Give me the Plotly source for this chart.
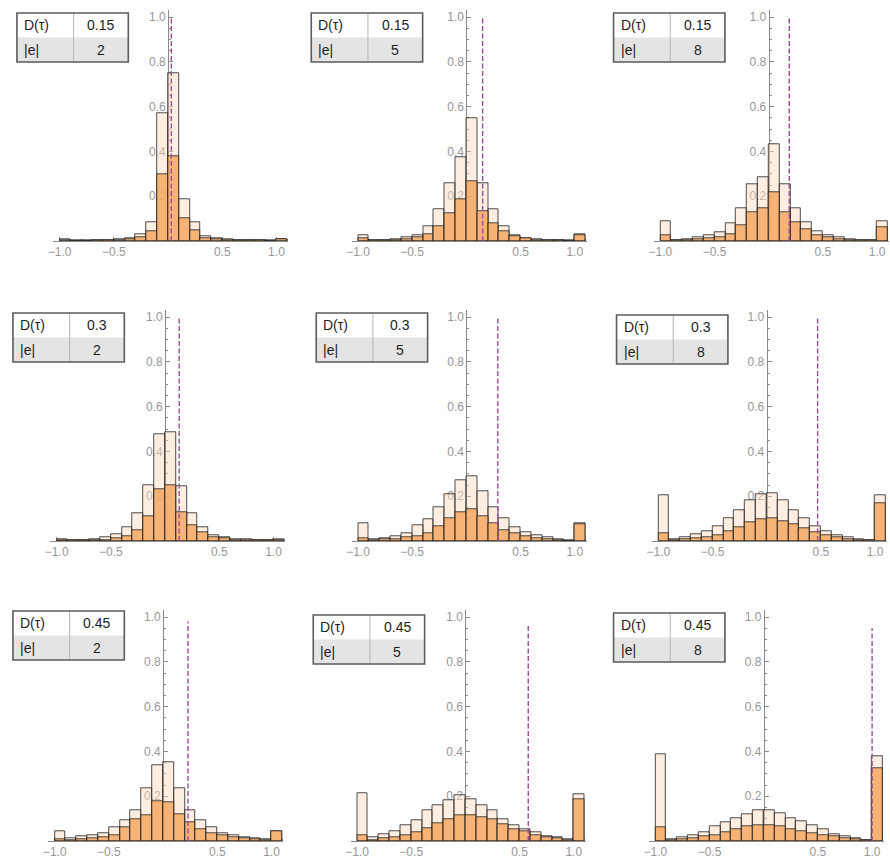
import plotly.graph_objects as go

W, H = 890, 863

# left edges of the histogram bins (width 0.1); the last bin holds the value 1.0
bin_left = [-1.0, -0.9, -0.8, -0.7, -0.6, -0.5, -0.4, -0.3, -0.2, -0.1,
            0.0, 0.1, 0.2, 0.3, 0.4, 0.5, 0.6, 0.7, 0.8, 0.9, 1.0]
bin_width = 0.1

# table labels per panel (row-major: D(tau) = 0.15, 0.3, 0.45 ; |e| = 2, 5, 8)
d_tau = ["0.15", "0.15", "0.15", "0.3", "0.3", "0.3", "0.45", "0.45", "0.45"]
e_abs = ["2", "5", "8", "2", "5", "8", "2", "5", "8"]

# pale histogram (all samples)
light_1 = [0.006, 0.002, 0.002, 0.003, 0.003, 0.007, 0.012, 0.03, 0.082, 0.57, 0.75,
           0.187, 0.082, 0.022, 0.012, 0.006, 0.004, 0.003, 0.003, 0.002, 0.008]
light_2 = [0.027, 0.004, 0.005, 0.009, 0.015, 0.024, 0.067, 0.143, 0.257, 0.376, 0.55,
           0.257, 0.143, 0.067, 0.024, 0.012, 0.006, 0.004, 0.003, 0.002, 0.03]
light_3 = [0.086, 0.004, 0.009, 0.015, 0.024, 0.041, 0.078, 0.147, 0.252, 0.285, 0.43,
           0.252, 0.147, 0.083, 0.044, 0.024, 0.015, 0.009, 0.005, 0.003, 0.086]
light_4 = [0.006, 0.004, 0.005, 0.006, 0.015, 0.03, 0.06, 0.122, 0.25, 0.478, 0.484,
           0.245, 0.122, 0.06, 0.025, 0.015, 0.009, 0.006, 0.005, 0.004, 0.006]
light_5 = [0.081, 0.006, 0.01, 0.021, 0.036, 0.07, 0.096, 0.15, 0.21, 0.272, 0.287,
           0.22, 0.15, 0.103, 0.063, 0.04, 0.025, 0.015, 0.007, 0.003, 0.081]
light_6 = [0.204, 0.006, 0.015, 0.028, 0.045, 0.066, 0.103, 0.137, 0.182, 0.209, 0.215,
           0.18, 0.137, 0.1, 0.066, 0.045, 0.025, 0.015, 0.007, 0.003, 0.204]
light_7 = [0.042, 0.012, 0.021, 0.027, 0.033, 0.06, 0.093, 0.137, 0.236, 0.336, 0.351,
           0.236, 0.137, 0.093, 0.06, 0.033, 0.027, 0.018, 0.012, 0.006, 0.042]
light_8 = [0.213, 0.018, 0.03, 0.045, 0.068, 0.093, 0.135, 0.158, 0.183, 0.203, 0.188,
           0.158, 0.135, 0.098, 0.068, 0.053, 0.038, 0.023, 0.015, 0.006, 0.208]
light_9 = [0.386, 0.006, 0.015, 0.027, 0.039, 0.064, 0.084, 0.102, 0.12, 0.136, 0.139,
           0.124, 0.102, 0.09, 0.072, 0.054, 0.03, 0.02, 0.012, 0.002, 0.379]

# orange histogram (subset)
orange_1 = [0.004, 0.001, 0.001, 0.002, 0.002, 0.004, 0.006, 0.018, 0.045, 0.296, 0.38,
            0.10, 0.048, 0.012, 0.006, 0.003, 0.002, 0.002, 0.002, 0.001, 0.006]
orange_2 = [0.012, 0.002, 0.003, 0.005, 0.008, 0.015, 0.03, 0.064, 0.124, 0.186, 0.265,
            0.131, 0.079, 0.042, 0.02, 0.01, 0.005, 0.003, 0.002, 0.001, 0.024]
orange_3 = [0.024, 0.002, 0.004, 0.006, 0.012, 0.018, 0.03, 0.068, 0.13, 0.145, 0.218,
            0.127, 0.083, 0.053, 0.027, 0.015, 0.008, 0.005, 0.003, 0.002, 0.063]
orange_4 = [0.003, 0.002, 0.003, 0.003, 0.005, 0.01, 0.021, 0.05, 0.11, 0.23, 0.25,
            0.13, 0.07, 0.04, 0.018, 0.01, 0.005, 0.003, 0.003, 0.002, 0.003]
orange_5 = [0.01, 0.003, 0.006, 0.009, 0.015, 0.021, 0.036, 0.066, 0.1, 0.13, 0.14,
            0.11, 0.078, 0.05, 0.033, 0.021, 0.012, 0.006, 0.003, 0.001, 0.075]
orange_6 = [0.036, 0.003, 0.006, 0.01, 0.018, 0.025, 0.045, 0.063, 0.085, 0.096, 0.1,
            0.09, 0.075, 0.055, 0.04, 0.025, 0.015, 0.009, 0.004, 0.002, 0.167]
orange_7 = [0.006, 0.005, 0.008, 0.012, 0.018, 0.027, 0.06, 0.097, 0.116, 0.176, 0.172,
            0.12, 0.082, 0.052, 0.033, 0.024, 0.018, 0.012, 0.007, 0.004, 0.042]
orange_8 = [0.027, 0.005, 0.01, 0.018, 0.027, 0.038, 0.057, 0.078, 0.098, 0.113, 0.117,
            0.108, 0.098, 0.075, 0.053, 0.042, 0.027, 0.018, 0.012, 0.005, 0.188]
orange_9 = [0.06, 0.003, 0.008, 0.012, 0.02, 0.027, 0.039, 0.054, 0.064, 0.069, 0.072,
            0.064, 0.054, 0.045, 0.034, 0.027, 0.019, 0.012, 0.007, 0.002, 0.326]

# dashed reference line per panel: position and height
marker_x = [0.03, 0.15, 0.19, 0.13, 0.29, 0.47, 0.23, 0.58, 1.0]
marker_top = [1.0, 1.0, 1.0, 1.0, 1.0, 1.0, 0.98, 0.96, 0.95]

lights = [light_1, light_2, light_3, light_4, light_5, light_6, light_7, light_8, light_9]
oranges = [orange_1, orange_2, orange_3, orange_4, orange_5, orange_6, orange_7, orange_8, orange_9]

x_ticks = [-1.0, -0.5, 0.5, 1.0]
x_ticktext = ["\u22121.0", "\u22120.5", "0.5", "1.0"]
y_ticks = [0.2, 0.4, 0.6, 0.8, 1.0]
y_ticktext = ["0.2", "0.4", "0.6", "0.8", "1.0"]

# panel placement in pixels: location of the origin and scale of one unit
origin_px_x = [164, 464, 768, 161, 464, 766, 159, 463, 763]
origin_px_y = [241, 241, 241, 541, 541, 541, 841, 841, 841]
unit_x, unit_y = 109, 224
x_lo, x_hi = -1.06, 1.11
y_hi = 1.03

# table boxes: left, top (pixels) and column divider
table_left = [12, 308, 612, 8, 313, 615, 8, 310, 612]
table_top = [13, 13, 13, 313, 313, 315, 611, 615, 613]
table_w, table_h, col1_w = 112, 49, 57

FONT = "Liberation Sans, Arial, sans-serif"
AXIS_COL = "#8a8a8a"
LABEL_COL = "#969696"
LIGHT_FILL = "rgba(250,218,188,0.45)"
ORANGE_FILL = "rgba(244,163,86,0.78)"
EDGE = "rgba(35,35,35,0.8)"
DASH_COL = "#9b4d9c"


def px_x(p):
    return p / W


def px_y(p):
    return 1 - p / H


fig = go.Figure()
layout = dict(
    width=W, height=H,
    margin=dict(l=0, r=0, t=0, b=0),
    paper_bgcolor="white", plot_bgcolor="rgba(0,0,0,0)",
    showlegend=False, barmode="overlay", bargap=0,
    shapes=[], annotations=[],
)

centers = [b + bin_width / 2 for b in bin_left]

for k in range(9):
    sfx = "" if k == 0 else str(k + 1)
    xa, ya = "x" + sfx, "y" + sfx
    x0, y0 = origin_px_x[k], origin_px_y[k]

    fig.add_trace(go.Bar(
        x=centers, y=lights[k], width=bin_width, xaxis=xa, yaxis=ya,
        marker=dict(color=LIGHT_FILL, line=dict(color=EDGE, width=1)),
        hoverinfo="skip"))
    fig.add_trace(go.Bar(
        x=centers, y=oranges[k], width=bin_width, xaxis=xa, yaxis=ya,
        marker=dict(color=ORANGE_FILL, line=dict(color=EDGE, width=1)),
        hoverinfo="skip"))
    fig.add_trace(go.Scatter(
        x=[marker_x[k], marker_x[k]], y=[0, marker_top[k]], mode="lines",
        xaxis=xa, yaxis=ya, line=dict(color=DASH_COL, width=1.4, dash="5px,2.5px"),
        hoverinfo="skip"))

    xdom = [px_x(x0 + x_lo * unit_x), min(1.0, px_x(x0 + x_hi * unit_x))]
    ydom = [px_y(y0), px_y(y0 - y_hi * unit_y)]

    layout["xaxis" + sfx] = dict(
        domain=xdom, range=[x_lo, x_hi], anchor=ya,
        showgrid=False, zeroline=False, showline=True, linecolor=AXIS_COL, linewidth=1,
        tickmode="array", tickvals=x_ticks, ticktext=x_ticktext,
        ticks="inside", ticklen=4, tickcolor=AXIS_COL, tickwidth=1,
        minor=dict(tickmode="linear", tick0=0, dtick=0.1, ticks="inside",
                   ticklen=2, tickcolor=AXIS_COL, showgrid=False),
        tickfont=dict(family=FONT, size=12, color=LABEL_COL),
        layer="below traces", fixedrange=True,
    )
    layout["yaxis" + sfx] = dict(
        domain=ydom, range=[0, y_hi], anchor="free", position=px_x(x0),
        showgrid=False, zeroline=False, showline=True, linecolor=AXIS_COL, linewidth=1,
        tickmode="array", tickvals=y_ticks, ticktext=y_ticktext,
        ticks="inside", ticklen=4, tickcolor=AXIS_COL, tickwidth=1,
        minor=dict(tickmode="linear", tick0=0, dtick=0.05, ticks="inside",
                   ticklen=2, tickcolor=AXIS_COL, showgrid=False),
        tickfont=dict(family=FONT, size=12, color=LABEL_COL),
        layer="below traces", fixedrange=True,
    )

    # parameter table
    L, T = table_left[k], table_top[k]
    R, B = L + table_w, T + table_h
    M = T + table_h / 2
    D = L + col1_w
    layout["shapes"] += [
        dict(type="rect", xref="paper", yref="paper",
             x0=px_x(L), x1=px_x(R), y0=px_y(T), y1=px_y(M),
             fillcolor="white", line=dict(width=0), layer="above"),
        dict(type="rect", xref="paper", yref="paper",
             x0=px_x(L), x1=px_x(R), y0=px_y(M), y1=px_y(B),
             fillcolor="#e4e4e4", line=dict(width=0), layer="above"),
        dict(type="line", xref="paper", yref="paper",
             x0=px_x(D), x1=px_x(D), y0=px_y(T), y1=px_y(B),
             line=dict(color="#b5b5b5", width=1), layer="above"),
        dict(type="rect", xref="paper", yref="paper",
             x0=px_x(L), x1=px_x(R), y0=px_y(T), y1=px_y(B),
             fillcolor="rgba(0,0,0,0)", line=dict(color="#5c5c5c", width=1.6), layer="above"),
    ]
    for txt, xx, yy, anc in [("D(\u03c4)", L + 5, (T + M) / 2, "left"),
                             (d_tau[k], (D + R) / 2, (T + M) / 2, "center"),
                             ("|e|", L + 5, (M + B) / 2, "left"),
                             (e_abs[k], (D + R) / 2, (M + B) / 2, "center")]:
        layout["annotations"].append(dict(
            text=txt, xref="paper", yref="paper", x=px_x(xx), y=px_y(yy),
            xanchor=anc, yanchor="middle", showarrow=False,
            font=dict(family=FONT, size=14, color="#1e1e1e")))

fig.update_layout(**layout)
fig.write_html("out.html")
